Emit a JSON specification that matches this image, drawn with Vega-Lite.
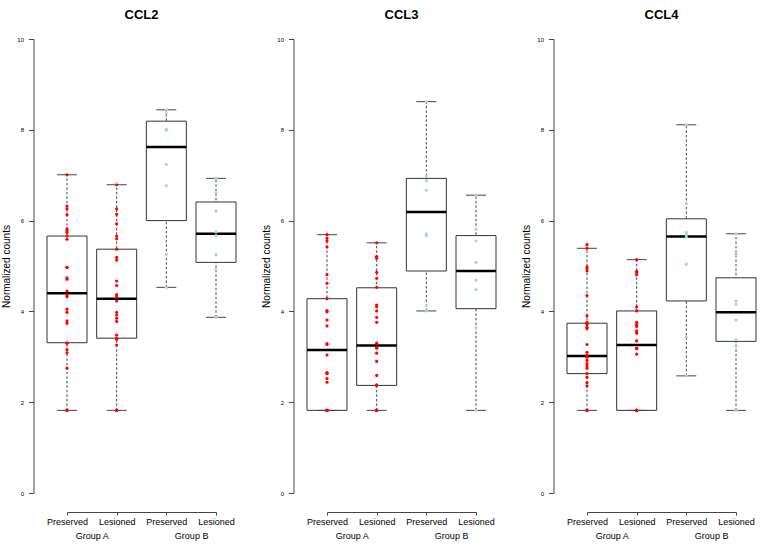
{
  "$schema": "https://vega.github.io/schema/vega-lite/v6.json",
  "background": "white",
  "padding": {"left": 1, "top": 9, "right": 5, "bottom": 4},
  "bounds": "flush",
  "spacing": 111,
  "config": {
    "font": "Liberation Sans",
    "view": {"stroke": null},
    "tick": {"opacity": 1},
    "axis": {"grid": false, "labelFont": "Liberation Sans", "titleFont": "Liberation Sans"}
  },
  "datasets": {
    "boxes": [
      {"gene": "CCL2", "box": "A-Preserved", "lo": 1.82, "q1": 3.31, "med": 4.40, "q3": 5.66, "hi": 7.01},
      {"gene": "CCL2", "box": "A-Lesioned", "lo": 1.82, "q1": 3.41, "med": 4.28, "q3": 5.37, "hi": 6.79},
      {"gene": "CCL2", "box": "B-Preserved", "lo": 4.53, "q1": 6.00, "med": 7.62, "q3": 8.19, "hi": 8.44},
      {"gene": "CCL2", "box": "B-Lesioned", "lo": 3.87, "q1": 5.08, "med": 5.71, "q3": 6.41, "hi": 6.93},
      {"gene": "CCL3", "box": "A-Preserved", "lo": 1.82, "q1": 1.82, "med": 3.15, "q3": 4.28, "hi": 5.69},
      {"gene": "CCL3", "box": "A-Lesioned", "lo": 1.82, "q1": 2.37, "med": 3.25, "q3": 4.52, "hi": 5.51},
      {"gene": "CCL3", "box": "B-Preserved", "lo": 4.01, "q1": 4.89, "med": 6.19, "q3": 6.93, "hi": 8.62},
      {"gene": "CCL3", "box": "B-Lesioned", "lo": 1.82, "q1": 4.06, "med": 4.89, "q3": 5.67, "hi": 6.56},
      {"gene": "CCL4", "box": "A-Preserved", "lo": 1.82, "q1": 2.63, "med": 3.02, "q3": 3.74, "hi": 5.39},
      {"gene": "CCL4", "box": "A-Lesioned", "lo": 1.82, "q1": 1.82, "med": 3.26, "q3": 4.01, "hi": 5.14},
      {"gene": "CCL4", "box": "B-Preserved", "lo": 2.58, "q1": 4.23, "med": 5.65, "q3": 6.04, "hi": 8.11},
      {"gene": "CCL4", "box": "B-Lesioned", "lo": 1.82, "q1": 3.34, "med": 3.98, "q3": 4.74, "hi": 5.71}
    ],
    "points": [
      {"gene": "CCL2", "box": "A-Preserved", "value": 7.01},
      {"gene": "CCL2", "box": "A-Preserved", "value": 6.32},
      {"gene": "CCL2", "box": "A-Preserved", "value": 6.26},
      {"gene": "CCL2", "box": "A-Preserved", "value": 6.13},
      {"gene": "CCL2", "box": "A-Preserved", "value": 5.82},
      {"gene": "CCL2", "box": "A-Preserved", "value": 5.78},
      {"gene": "CCL2", "box": "A-Preserved", "value": 5.74},
      {"gene": "CCL2", "box": "A-Preserved", "value": 5.66},
      {"gene": "CCL2", "box": "A-Preserved", "value": 5.59},
      {"gene": "CCL2", "box": "A-Preserved", "value": 4.97},
      {"gene": "CCL2", "box": "A-Preserved", "value": 4.97},
      {"gene": "CCL2", "box": "A-Preserved", "value": 4.74},
      {"gene": "CCL2", "box": "A-Preserved", "value": 4.71},
      {"gene": "CCL2", "box": "A-Preserved", "value": 4.45},
      {"gene": "CCL2", "box": "A-Preserved", "value": 4.36},
      {"gene": "CCL2", "box": "A-Preserved", "value": 4.32},
      {"gene": "CCL2", "box": "A-Preserved", "value": 4.05},
      {"gene": "CCL2", "box": "A-Preserved", "value": 3.98},
      {"gene": "CCL2", "box": "A-Preserved", "value": 3.79},
      {"gene": "CCL2", "box": "A-Preserved", "value": 3.74},
      {"gene": "CCL2", "box": "A-Preserved", "value": 3.30},
      {"gene": "CCL2", "box": "A-Preserved", "value": 3.30},
      {"gene": "CCL2", "box": "A-Preserved", "value": 3.16},
      {"gene": "CCL2", "box": "A-Preserved", "value": 3.09},
      {"gene": "CCL2", "box": "A-Preserved", "value": 2.75},
      {"gene": "CCL2", "box": "A-Preserved", "value": 1.82},
      {"gene": "CCL2", "box": "A-Preserved", "value": 1.82},
      {"gene": "CCL2", "box": "A-Preserved", "value": 1.82},
      {"gene": "CCL2", "box": "A-Lesioned", "value": 6.79},
      {"gene": "CCL2", "box": "A-Lesioned", "value": 6.26},
      {"gene": "CCL2", "box": "A-Lesioned", "value": 6.14},
      {"gene": "CCL2", "box": "A-Lesioned", "value": 5.93},
      {"gene": "CCL2", "box": "A-Lesioned", "value": 5.66},
      {"gene": "CCL2", "box": "A-Lesioned", "value": 5.60},
      {"gene": "CCL2", "box": "A-Lesioned", "value": 5.37},
      {"gene": "CCL2", "box": "A-Lesioned", "value": 5.19},
      {"gene": "CCL2", "box": "A-Lesioned", "value": 5.13},
      {"gene": "CCL2", "box": "A-Lesioned", "value": 4.67},
      {"gene": "CCL2", "box": "A-Lesioned", "value": 4.57},
      {"gene": "CCL2", "box": "A-Lesioned", "value": 4.37},
      {"gene": "CCL2", "box": "A-Lesioned", "value": 4.33},
      {"gene": "CCL2", "box": "A-Lesioned", "value": 4.23},
      {"gene": "CCL2", "box": "A-Lesioned", "value": 3.98},
      {"gene": "CCL2", "box": "A-Lesioned", "value": 3.92},
      {"gene": "CCL2", "box": "A-Lesioned", "value": 3.85},
      {"gene": "CCL2", "box": "A-Lesioned", "value": 3.78},
      {"gene": "CCL2", "box": "A-Lesioned", "value": 3.48},
      {"gene": "CCL2", "box": "A-Lesioned", "value": 3.41},
      {"gene": "CCL2", "box": "A-Lesioned", "value": 3.39},
      {"gene": "CCL2", "box": "A-Lesioned", "value": 3.39},
      {"gene": "CCL2", "box": "A-Lesioned", "value": 3.26},
      {"gene": "CCL2", "box": "A-Lesioned", "value": 1.82},
      {"gene": "CCL2", "box": "A-Lesioned", "value": 1.82},
      {"gene": "CCL2", "box": "A-Lesioned", "value": 1.82},
      {"gene": "CCL2", "box": "B-Preserved", "value": 8.44},
      {"gene": "CCL2", "box": "B-Preserved", "value": 8.36},
      {"gene": "CCL2", "box": "B-Preserved", "value": 8.01},
      {"gene": "CCL2", "box": "B-Preserved", "value": 7.99},
      {"gene": "CCL2", "box": "B-Preserved", "value": 7.24},
      {"gene": "CCL2", "box": "B-Preserved", "value": 6.77},
      {"gene": "CCL2", "box": "B-Preserved", "value": 5.26},
      {"gene": "CCL2", "box": "B-Preserved", "value": 4.53},
      {"gene": "CCL2", "box": "B-Lesioned", "value": 6.93},
      {"gene": "CCL2", "box": "B-Lesioned", "value": 6.61},
      {"gene": "CCL2", "box": "B-Lesioned", "value": 6.21},
      {"gene": "CCL2", "box": "B-Lesioned", "value": 5.75},
      {"gene": "CCL2", "box": "B-Lesioned", "value": 5.67},
      {"gene": "CCL2", "box": "B-Lesioned", "value": 5.25},
      {"gene": "CCL2", "box": "B-Lesioned", "value": 4.92},
      {"gene": "CCL2", "box": "B-Lesioned", "value": 3.87},
      {"gene": "CCL3", "box": "A-Preserved", "value": 5.69},
      {"gene": "CCL3", "box": "A-Preserved", "value": 5.61},
      {"gene": "CCL3", "box": "A-Preserved", "value": 5.55},
      {"gene": "CCL3", "box": "A-Preserved", "value": 5.42},
      {"gene": "CCL3", "box": "A-Preserved", "value": 4.81},
      {"gene": "CCL3", "box": "A-Preserved", "value": 4.62},
      {"gene": "CCL3", "box": "A-Preserved", "value": 4.28},
      {"gene": "CCL3", "box": "A-Preserved", "value": 4.02},
      {"gene": "CCL3", "box": "A-Preserved", "value": 3.99},
      {"gene": "CCL3", "box": "A-Preserved", "value": 3.81},
      {"gene": "CCL3", "box": "A-Preserved", "value": 3.68},
      {"gene": "CCL3", "box": "A-Preserved", "value": 3.29},
      {"gene": "CCL3", "box": "A-Preserved", "value": 3.27},
      {"gene": "CCL3", "box": "A-Preserved", "value": 3.04},
      {"gene": "CCL3", "box": "A-Preserved", "value": 2.65},
      {"gene": "CCL3", "box": "A-Preserved", "value": 2.64},
      {"gene": "CCL3", "box": "A-Preserved", "value": 2.63},
      {"gene": "CCL3", "box": "A-Preserved", "value": 2.52},
      {"gene": "CCL3", "box": "A-Preserved", "value": 2.44},
      {"gene": "CCL3", "box": "A-Preserved", "value": 1.82},
      {"gene": "CCL3", "box": "A-Preserved", "value": 1.82},
      {"gene": "CCL3", "box": "A-Preserved", "value": 1.82},
      {"gene": "CCL3", "box": "A-Preserved", "value": 1.82},
      {"gene": "CCL3", "box": "A-Preserved", "value": 1.82},
      {"gene": "CCL3", "box": "A-Preserved", "value": 1.82},
      {"gene": "CCL3", "box": "A-Lesioned", "value": 5.51},
      {"gene": "CCL3", "box": "A-Lesioned", "value": 5.21},
      {"gene": "CCL3", "box": "A-Lesioned", "value": 5.20},
      {"gene": "CCL3", "box": "A-Lesioned", "value": 5.17},
      {"gene": "CCL3", "box": "A-Lesioned", "value": 4.86},
      {"gene": "CCL3", "box": "A-Lesioned", "value": 4.73},
      {"gene": "CCL3", "box": "A-Lesioned", "value": 4.53},
      {"gene": "CCL3", "box": "A-Lesioned", "value": 4.14},
      {"gene": "CCL3", "box": "A-Lesioned", "value": 4.10},
      {"gene": "CCL3", "box": "A-Lesioned", "value": 4.01},
      {"gene": "CCL3", "box": "A-Lesioned", "value": 3.87},
      {"gene": "CCL3", "box": "A-Lesioned", "value": 3.76},
      {"gene": "CCL3", "box": "A-Lesioned", "value": 3.30},
      {"gene": "CCL3", "box": "A-Lesioned", "value": 3.21},
      {"gene": "CCL3", "box": "A-Lesioned", "value": 3.19},
      {"gene": "CCL3", "box": "A-Lesioned", "value": 3.08},
      {"gene": "CCL3", "box": "A-Lesioned", "value": 2.90},
      {"gene": "CCL3", "box": "A-Lesioned", "value": 2.59},
      {"gene": "CCL3", "box": "A-Lesioned", "value": 2.38},
      {"gene": "CCL3", "box": "A-Lesioned", "value": 2.37},
      {"gene": "CCL3", "box": "A-Lesioned", "value": 1.82},
      {"gene": "CCL3", "box": "A-Lesioned", "value": 1.82},
      {"gene": "CCL3", "box": "A-Lesioned", "value": 1.82},
      {"gene": "CCL3", "box": "A-Lesioned", "value": 1.82},
      {"gene": "CCL3", "box": "A-Lesioned", "value": 1.82},
      {"gene": "CCL3", "box": "B-Preserved", "value": 8.62},
      {"gene": "CCL3", "box": "B-Preserved", "value": 6.98},
      {"gene": "CCL3", "box": "B-Preserved", "value": 6.88},
      {"gene": "CCL3", "box": "B-Preserved", "value": 6.67},
      {"gene": "CCL3", "box": "B-Preserved", "value": 5.71},
      {"gene": "CCL3", "box": "B-Preserved", "value": 5.67},
      {"gene": "CCL3", "box": "B-Preserved", "value": 4.13},
      {"gene": "CCL3", "box": "B-Preserved", "value": 4.01},
      {"gene": "CCL3", "box": "B-Lesioned", "value": 6.56},
      {"gene": "CCL3", "box": "B-Lesioned", "value": 5.81},
      {"gene": "CCL3", "box": "B-Lesioned", "value": 5.55},
      {"gene": "CCL3", "box": "B-Lesioned", "value": 5.08},
      {"gene": "CCL3", "box": "B-Lesioned", "value": 4.69},
      {"gene": "CCL3", "box": "B-Lesioned", "value": 4.48},
      {"gene": "CCL3", "box": "B-Lesioned", "value": 3.64},
      {"gene": "CCL3", "box": "B-Lesioned", "value": 1.82},
      {"gene": "CCL4", "box": "A-Preserved", "value": 5.47},
      {"gene": "CCL4", "box": "A-Preserved", "value": 5.39},
      {"gene": "CCL4", "box": "A-Preserved", "value": 4.98},
      {"gene": "CCL4", "box": "A-Preserved", "value": 4.94},
      {"gene": "CCL4", "box": "A-Preserved", "value": 4.89},
      {"gene": "CCL4", "box": "A-Preserved", "value": 4.35},
      {"gene": "CCL4", "box": "A-Preserved", "value": 3.90},
      {"gene": "CCL4", "box": "A-Preserved", "value": 3.76},
      {"gene": "CCL4", "box": "A-Preserved", "value": 3.71},
      {"gene": "CCL4", "box": "A-Preserved", "value": 3.65},
      {"gene": "CCL4", "box": "A-Preserved", "value": 3.62},
      {"gene": "CCL4", "box": "A-Preserved", "value": 3.27},
      {"gene": "CCL4", "box": "A-Preserved", "value": 3.10},
      {"gene": "CCL4", "box": "A-Preserved", "value": 3.04},
      {"gene": "CCL4", "box": "A-Preserved", "value": 2.99},
      {"gene": "CCL4", "box": "A-Preserved", "value": 2.92},
      {"gene": "CCL4", "box": "A-Preserved", "value": 2.85},
      {"gene": "CCL4", "box": "A-Preserved", "value": 2.80},
      {"gene": "CCL4", "box": "A-Preserved", "value": 2.75},
      {"gene": "CCL4", "box": "A-Preserved", "value": 2.63},
      {"gene": "CCL4", "box": "A-Preserved", "value": 2.55},
      {"gene": "CCL4", "box": "A-Preserved", "value": 2.43},
      {"gene": "CCL4", "box": "A-Preserved", "value": 2.36},
      {"gene": "CCL4", "box": "A-Preserved", "value": 1.82},
      {"gene": "CCL4", "box": "A-Preserved", "value": 1.82},
      {"gene": "CCL4", "box": "A-Preserved", "value": 1.82},
      {"gene": "CCL4", "box": "A-Lesioned", "value": 5.14},
      {"gene": "CCL4", "box": "A-Lesioned", "value": 4.88},
      {"gene": "CCL4", "box": "A-Lesioned", "value": 4.86},
      {"gene": "CCL4", "box": "A-Lesioned", "value": 4.81},
      {"gene": "CCL4", "box": "A-Lesioned", "value": 4.10},
      {"gene": "CCL4", "box": "A-Lesioned", "value": 4.01},
      {"gene": "CCL4", "box": "A-Lesioned", "value": 3.76},
      {"gene": "CCL4", "box": "A-Lesioned", "value": 3.71},
      {"gene": "CCL4", "box": "A-Lesioned", "value": 3.67},
      {"gene": "CCL4", "box": "A-Lesioned", "value": 3.57},
      {"gene": "CCL4", "box": "A-Lesioned", "value": 3.52},
      {"gene": "CCL4", "box": "A-Lesioned", "value": 3.35},
      {"gene": "CCL4", "box": "A-Lesioned", "value": 3.19},
      {"gene": "CCL4", "box": "A-Lesioned", "value": 3.18},
      {"gene": "CCL4", "box": "A-Lesioned", "value": 3.06},
      {"gene": "CCL4", "box": "A-Lesioned", "value": 1.82},
      {"gene": "CCL4", "box": "A-Lesioned", "value": 1.82},
      {"gene": "CCL4", "box": "A-Lesioned", "value": 1.82},
      {"gene": "CCL4", "box": "A-Lesioned", "value": 1.82},
      {"gene": "CCL4", "box": "A-Lesioned", "value": 1.82},
      {"gene": "CCL4", "box": "A-Lesioned", "value": 1.82},
      {"gene": "CCL4", "box": "B-Preserved", "value": 8.11},
      {"gene": "CCL4", "box": "B-Preserved", "value": 6.37},
      {"gene": "CCL4", "box": "B-Preserved", "value": 5.74},
      {"gene": "CCL4", "box": "B-Preserved", "value": 5.69},
      {"gene": "CCL4", "box": "B-Preserved", "value": 5.64},
      {"gene": "CCL4", "box": "B-Preserved", "value": 5.04},
      {"gene": "CCL4", "box": "B-Preserved", "value": 3.43},
      {"gene": "CCL4", "box": "B-Preserved", "value": 2.58},
      {"gene": "CCL4", "box": "B-Lesioned", "value": 5.71},
      {"gene": "CCL4", "box": "B-Lesioned", "value": 5.26},
      {"gene": "CCL4", "box": "B-Lesioned", "value": 4.23},
      {"gene": "CCL4", "box": "B-Lesioned", "value": 4.16},
      {"gene": "CCL4", "box": "B-Lesioned", "value": 3.81},
      {"gene": "CCL4", "box": "B-Lesioned", "value": 3.38},
      {"gene": "CCL4", "box": "B-Lesioned", "value": 3.26},
      {"gene": "CCL4", "box": "B-Lesioned", "value": 1.82}
    ]
  },
  "hconcat": [
    {
      "width": 149, "height": 454,
      "title": {"text": "CCL2", "fontSize": 13, "fontWeight": "bold", "frame": "group", "anchor": "middle", "offset": 14, "color": "#000"},
      "resolve": {"axis": {"x": "independent"}},
      "layer": [
        {"data": {"name": "boxes"}, "transform": [{"filter": "datum.gene === 'CCL2'"}],
         "mark": {"type": "rule", "strokeDash": [2.5, 2], "color": "#444", "strokeWidth": 1},
         "encoding": {
           "x": {"field": "box", "type": "nominal", "scale": {"type": "point", "padding": 0, "domain": ["A-Preserved", "A-Lesioned", "B-Preserved", "B-Lesioned"]},
                 "axis": {"orient": "bottom", "title": null, "offset": 19, "tickSize": 3, "labelFontSize": 9, "labelPadding": 2, "labelAngle": 0, "labelExpr": "split(datum.value, '-')[1]", "domainColor": "#444", "tickColor": "#444", "labelColor": "#000"}},
           "y": {"field": "lo", "type": "quantitative", "title": "Normalized counts", "scale": {"domain": [0, 10], "nice": false, "zero": false},
                 "axis": {"values": [0, 2, 4, 6, 8, 10], "offset": 33.5, "tickSize": 5, "labelFontSize": 6, "labelPadding": 5, "titleFontSize": 10, "titleFontWeight": "normal", "titlePadding": 5, "domainColor": "#444", "tickColor": "#444", "labelColor": "#000", "titleColor": "#000"}},
           "y2": {"field": "hi"}
         }},
        {"data": {"name": "boxes"}, "transform": [{"filter": "datum.gene === 'CCL2'"}],
         "mark": {"type": "bar", "width": 40, "fill": "white", "stroke": "#333", "strokeWidth": 1},
         "encoding": {
           "x": {"field": "box", "type": "nominal", "scale": {"type": "point", "padding": 0, "domain": ["A-Preserved", "A-Lesioned", "B-Preserved", "B-Lesioned"]},
                 "axis": {"orient": "bottom", "title": null, "offset": 19, "values": ["A-Preserved", "B-Preserved"], "labelExpr": "datum.value == 'A-Preserved' ? 'Group A' : 'Group B'", "labelOffset": 24.8, "ticks": false, "tickSize": 0, "domain": false, "labelPadding": 19, "labelFontSize": 9, "labelAngle": 0, "labelColor": "#000"}},
           "y": {"field": "q1", "type": "quantitative", "title": "Normalized counts", "scale": {"domain": [0, 10], "nice": false, "zero": false}},
           "y2": {"field": "q3"}
         }},
        {"data": {"name": "boxes"}, "transform": [{"filter": "datum.gene === 'CCL2'"}],
         "mark": {"type": "tick", "size": 20, "thickness": 1, "color": "#444", "opacity": 1},
         "encoding": {
           "x": {"field": "box", "type": "nominal", "scale": {"type": "point", "padding": 0, "domain": ["A-Preserved", "A-Lesioned", "B-Preserved", "B-Lesioned"]}, "axis": null},
           "y": {"field": "lo", "type": "quantitative", "title": "Normalized counts", "scale": {"domain": [0, 10], "nice": false, "zero": false}}
         }},
        {"data": {"name": "boxes"}, "transform": [{"filter": "datum.gene === 'CCL2'"}],
         "mark": {"type": "tick", "size": 20, "thickness": 1, "color": "#444", "opacity": 1},
         "encoding": {
           "x": {"field": "box", "type": "nominal", "scale": {"type": "point", "padding": 0, "domain": ["A-Preserved", "A-Lesioned", "B-Preserved", "B-Lesioned"]}, "axis": null},
           "y": {"field": "hi", "type": "quantitative", "title": "Normalized counts", "scale": {"domain": [0, 10], "nice": false, "zero": false}}
         }},
        {"data": {"name": "boxes"}, "transform": [{"filter": "datum.gene === 'CCL2'"}],
         "mark": {"type": "tick", "size": 40, "thickness": 2.5, "color": "#000", "opacity": 1},
         "encoding": {
           "x": {"field": "box", "type": "nominal", "scale": {"type": "point", "padding": 0, "domain": ["A-Preserved", "A-Lesioned", "B-Preserved", "B-Lesioned"]}, "axis": null},
           "y": {"field": "med", "type": "quantitative", "title": "Normalized counts", "scale": {"domain": [0, 10], "nice": false, "zero": false}}
         }},
        {"data": {"name": "points"}, "transform": [{"filter": "datum.gene === 'CCL2'"}],
         "mark": {"type": "circle", "size": 10, "opacity": 1},
         "encoding": {
           "x": {"field": "box", "type": "nominal", "scale": {"type": "point", "padding": 0, "domain": ["A-Preserved", "A-Lesioned", "B-Preserved", "B-Lesioned"]}, "axis": null},
           "y": {"field": "value", "type": "quantitative", "title": "Normalized counts", "scale": {"domain": [0, 10], "nice": false, "zero": false}},
           "color": {"field": "box", "type": "nominal", "scale": {"domain": ["A-Preserved", "A-Lesioned", "B-Preserved", "B-Lesioned"], "range": ["#ff0000", "#ff0000", "#a6d5e0", "#a6d5e0"]}, "legend": null}
         }}
      ]
    },
    {
      "width": 149, "height": 454,
      "title": {"text": "CCL3", "fontSize": 13, "fontWeight": "bold", "frame": "group", "anchor": "middle", "offset": 14, "color": "#000"},
      "resolve": {"axis": {"x": "independent"}},
      "layer": [
        {"data": {"name": "boxes"}, "transform": [{"filter": "datum.gene === 'CCL3'"}],
         "mark": {"type": "rule", "strokeDash": [2.5, 2], "color": "#444", "strokeWidth": 1},
         "encoding": {
           "x": {"field": "box", "type": "nominal", "scale": {"type": "point", "padding": 0, "domain": ["A-Preserved", "A-Lesioned", "B-Preserved", "B-Lesioned"]},
                 "axis": {"orient": "bottom", "title": null, "offset": 19, "tickSize": 3, "labelFontSize": 9, "labelPadding": 2, "labelAngle": 0, "labelExpr": "split(datum.value, '-')[1]", "domainColor": "#444", "tickColor": "#444", "labelColor": "#000"}},
           "y": {"field": "lo", "type": "quantitative", "title": "Normalized counts", "scale": {"domain": [0, 10], "nice": false, "zero": false},
                 "axis": {"values": [0, 2, 4, 6, 8, 10], "offset": 33.5, "tickSize": 5, "labelFontSize": 6, "labelPadding": 5, "titleFontSize": 10, "titleFontWeight": "normal", "titlePadding": 5, "domainColor": "#444", "tickColor": "#444", "labelColor": "#000", "titleColor": "#000"}},
           "y2": {"field": "hi"}
         }},
        {"data": {"name": "boxes"}, "transform": [{"filter": "datum.gene === 'CCL3'"}],
         "mark": {"type": "bar", "width": 40, "fill": "white", "stroke": "#333", "strokeWidth": 1},
         "encoding": {
           "x": {"field": "box", "type": "nominal", "scale": {"type": "point", "padding": 0, "domain": ["A-Preserved", "A-Lesioned", "B-Preserved", "B-Lesioned"]},
                 "axis": {"orient": "bottom", "title": null, "offset": 19, "values": ["A-Preserved", "B-Preserved"], "labelExpr": "datum.value == 'A-Preserved' ? 'Group A' : 'Group B'", "labelOffset": 24.8, "ticks": false, "tickSize": 0, "domain": false, "labelPadding": 19, "labelFontSize": 9, "labelAngle": 0, "labelColor": "#000"}},
           "y": {"field": "q1", "type": "quantitative", "title": "Normalized counts", "scale": {"domain": [0, 10], "nice": false, "zero": false}},
           "y2": {"field": "q3"}
         }},
        {"data": {"name": "boxes"}, "transform": [{"filter": "datum.gene === 'CCL3'"}],
         "mark": {"type": "tick", "size": 20, "thickness": 1, "color": "#444", "opacity": 1},
         "encoding": {
           "x": {"field": "box", "type": "nominal", "scale": {"type": "point", "padding": 0, "domain": ["A-Preserved", "A-Lesioned", "B-Preserved", "B-Lesioned"]}, "axis": null},
           "y": {"field": "lo", "type": "quantitative", "title": "Normalized counts", "scale": {"domain": [0, 10], "nice": false, "zero": false}}
         }},
        {"data": {"name": "boxes"}, "transform": [{"filter": "datum.gene === 'CCL3'"}],
         "mark": {"type": "tick", "size": 20, "thickness": 1, "color": "#444", "opacity": 1},
         "encoding": {
           "x": {"field": "box", "type": "nominal", "scale": {"type": "point", "padding": 0, "domain": ["A-Preserved", "A-Lesioned", "B-Preserved", "B-Lesioned"]}, "axis": null},
           "y": {"field": "hi", "type": "quantitative", "title": "Normalized counts", "scale": {"domain": [0, 10], "nice": false, "zero": false}}
         }},
        {"data": {"name": "boxes"}, "transform": [{"filter": "datum.gene === 'CCL3'"}],
         "mark": {"type": "tick", "size": 40, "thickness": 2.5, "color": "#000", "opacity": 1},
         "encoding": {
           "x": {"field": "box", "type": "nominal", "scale": {"type": "point", "padding": 0, "domain": ["A-Preserved", "A-Lesioned", "B-Preserved", "B-Lesioned"]}, "axis": null},
           "y": {"field": "med", "type": "quantitative", "title": "Normalized counts", "scale": {"domain": [0, 10], "nice": false, "zero": false}}
         }},
        {"data": {"name": "points"}, "transform": [{"filter": "datum.gene === 'CCL3'"}],
         "mark": {"type": "circle", "size": 10, "opacity": 1},
         "encoding": {
           "x": {"field": "box", "type": "nominal", "scale": {"type": "point", "padding": 0, "domain": ["A-Preserved", "A-Lesioned", "B-Preserved", "B-Lesioned"]}, "axis": null},
           "y": {"field": "value", "type": "quantitative", "title": "Normalized counts", "scale": {"domain": [0, 10], "nice": false, "zero": false}},
           "color": {"field": "box", "type": "nominal", "scale": {"domain": ["A-Preserved", "A-Lesioned", "B-Preserved", "B-Lesioned"], "range": ["#ff0000", "#ff0000", "#a6d5e0", "#a6d5e0"]}, "legend": null}
         }}
      ]
    },
    {
      "width": 149, "height": 454,
      "title": {"text": "CCL4", "fontSize": 13, "fontWeight": "bold", "frame": "group", "anchor": "middle", "offset": 14, "color": "#000"},
      "resolve": {"axis": {"x": "independent"}},
      "layer": [
        {"data": {"name": "boxes"}, "transform": [{"filter": "datum.gene === 'CCL4'"}],
         "mark": {"type": "rule", "strokeDash": [2.5, 2], "color": "#444", "strokeWidth": 1},
         "encoding": {
           "x": {"field": "box", "type": "nominal", "scale": {"type": "point", "padding": 0, "domain": ["A-Preserved", "A-Lesioned", "B-Preserved", "B-Lesioned"]},
                 "axis": {"orient": "bottom", "title": null, "offset": 19, "tickSize": 3, "labelFontSize": 9, "labelPadding": 2, "labelAngle": 0, "labelExpr": "split(datum.value, '-')[1]", "domainColor": "#444", "tickColor": "#444", "labelColor": "#000"}},
           "y": {"field": "lo", "type": "quantitative", "title": "Normalized counts", "scale": {"domain": [0, 10], "nice": false, "zero": false},
                 "axis": {"values": [0, 2, 4, 6, 8, 10], "offset": 33.5, "tickSize": 5, "labelFontSize": 6, "labelPadding": 5, "titleFontSize": 10, "titleFontWeight": "normal", "titlePadding": 5, "domainColor": "#444", "tickColor": "#444", "labelColor": "#000", "titleColor": "#000"}},
           "y2": {"field": "hi"}
         }},
        {"data": {"name": "boxes"}, "transform": [{"filter": "datum.gene === 'CCL4'"}],
         "mark": {"type": "bar", "width": 40, "fill": "white", "stroke": "#333", "strokeWidth": 1},
         "encoding": {
           "x": {"field": "box", "type": "nominal", "scale": {"type": "point", "padding": 0, "domain": ["A-Preserved", "A-Lesioned", "B-Preserved", "B-Lesioned"]},
                 "axis": {"orient": "bottom", "title": null, "offset": 19, "values": ["A-Preserved", "B-Preserved"], "labelExpr": "datum.value == 'A-Preserved' ? 'Group A' : 'Group B'", "labelOffset": 24.8, "ticks": false, "tickSize": 0, "domain": false, "labelPadding": 19, "labelFontSize": 9, "labelAngle": 0, "labelColor": "#000"}},
           "y": {"field": "q1", "type": "quantitative", "title": "Normalized counts", "scale": {"domain": [0, 10], "nice": false, "zero": false}},
           "y2": {"field": "q3"}
         }},
        {"data": {"name": "boxes"}, "transform": [{"filter": "datum.gene === 'CCL4'"}],
         "mark": {"type": "tick", "size": 20, "thickness": 1, "color": "#444", "opacity": 1},
         "encoding": {
           "x": {"field": "box", "type": "nominal", "scale": {"type": "point", "padding": 0, "domain": ["A-Preserved", "A-Lesioned", "B-Preserved", "B-Lesioned"]}, "axis": null},
           "y": {"field": "lo", "type": "quantitative", "title": "Normalized counts", "scale": {"domain": [0, 10], "nice": false, "zero": false}}
         }},
        {"data": {"name": "boxes"}, "transform": [{"filter": "datum.gene === 'CCL4'"}],
         "mark": {"type": "tick", "size": 20, "thickness": 1, "color": "#444", "opacity": 1},
         "encoding": {
           "x": {"field": "box", "type": "nominal", "scale": {"type": "point", "padding": 0, "domain": ["A-Preserved", "A-Lesioned", "B-Preserved", "B-Lesioned"]}, "axis": null},
           "y": {"field": "hi", "type": "quantitative", "title": "Normalized counts", "scale": {"domain": [0, 10], "nice": false, "zero": false}}
         }},
        {"data": {"name": "boxes"}, "transform": [{"filter": "datum.gene === 'CCL4'"}],
         "mark": {"type": "tick", "size": 40, "thickness": 2.5, "color": "#000", "opacity": 1},
         "encoding": {
           "x": {"field": "box", "type": "nominal", "scale": {"type": "point", "padding": 0, "domain": ["A-Preserved", "A-Lesioned", "B-Preserved", "B-Lesioned"]}, "axis": null},
           "y": {"field": "med", "type": "quantitative", "title": "Normalized counts", "scale": {"domain": [0, 10], "nice": false, "zero": false}}
         }},
        {"data": {"name": "points"}, "transform": [{"filter": "datum.gene === 'CCL4'"}],
         "mark": {"type": "circle", "size": 10, "opacity": 1},
         "encoding": {
           "x": {"field": "box", "type": "nominal", "scale": {"type": "point", "padding": 0, "domain": ["A-Preserved", "A-Lesioned", "B-Preserved", "B-Lesioned"]}, "axis": null},
           "y": {"field": "value", "type": "quantitative", "title": "Normalized counts", "scale": {"domain": [0, 10], "nice": false, "zero": false}},
           "color": {"field": "box", "type": "nominal", "scale": {"domain": ["A-Preserved", "A-Lesioned", "B-Preserved", "B-Lesioned"], "range": ["#ff0000", "#ff0000", "#a6d5e0", "#a6d5e0"]}, "legend": null}
         }}
      ]
    }
  ]
}
